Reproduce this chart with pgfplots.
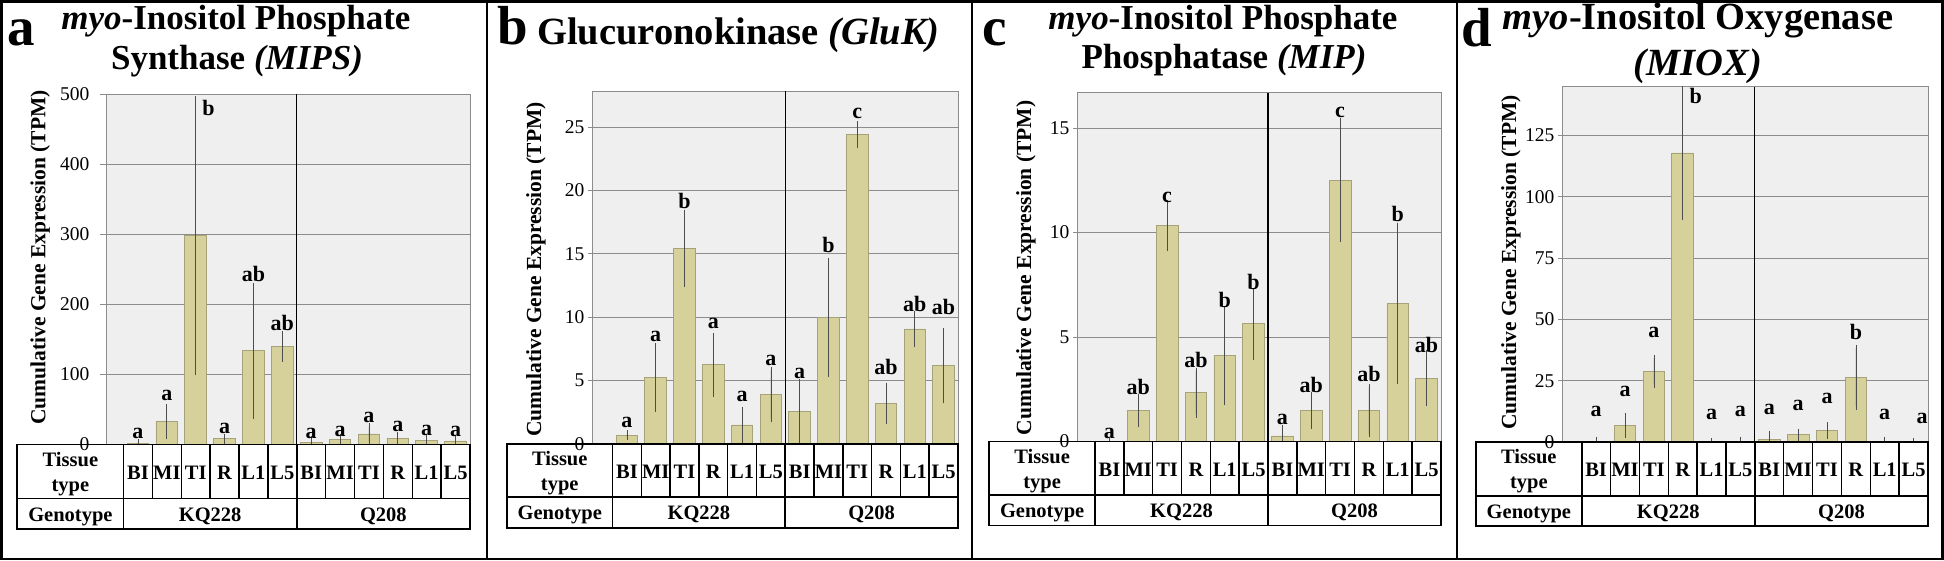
\documentclass[border=0pt]{standalone}
\usepackage{fontspec}
\setmainfont{Liberation Serif}
\usepackage{pgfplots}
\pgfplotsset{compat=1.18}
\usepackage{pgfplotstable}

\definecolor{barfill}{HTML}{D6D09B}
\definecolor{baredge}{HTML}{A6A27A}
\definecolor{bggray}{HTML}{EFEFEF}
\definecolor{gridgray}{HTML}{8C8C8C}
\definecolor{errcol}{HTML}{4D4D4D}

% ---------- data: x index, value, error ----------
\pgfplotstableread{
x y e
0 2 1
1 33 20
2 298 194
3 8 2
4 134 92
5 140 17
6 3 4
7 7 3.5
8 15 10.5
9 8.5 4.5
10 6 4.5
11 5 4
}\dataA
\pgfplotstableread{
x y t
0 8.7 a
1 62.8 a
2.44 469 b
3 16.3 a
4 232 ab
5 163 ab
6 8.7 a
7 11.7 a
8 31.6 a
9 17.9 a
10 12.8 a
11 11.7 a
}\labA

\pgfplotstableread{
x y e
0 0.7 0.1
1 5.25 2.43
2 15.41 2.75
3 6.24 2.25
4 1.5 1.15
5 3.9 1.9
6 2.55 2.33
7 9.97 4.4
8 24.38 0.8
9 3.19 1.37
10 9.07 1.15
11 6.16 2.68
}\dataB
\pgfplotstableread{
x y t
0 1.3 a
1 8.08 a
2 18.6 b
3 9.12 a
4 3.33 a
5 6.2 a
6 5.17 a
7 15.1 b
8 25.65 c
9 5.5 ab
10 10.48 ab
11 10.25 ab
}\labB

\pgfplotstableread{
x y e
0 0 0
1 1.49 0.63
2 10.33 1.04
3 2.34 1.03
4 4.12 2.21
5 5.63 1.54
6 0.27 0.36
7 1.49 0.72
8 12.5 2.79
9 1.49 1.12
10 6.62 3.69
11 3.03 1.17
}\dataC
\pgfplotstableread{
x y t
0 0.15 a
1 2.26 ab
2 11.44 c
3 3.54 ab
4 6.41 b
5 7.27 b
6 0.8 a
7 2.34 ab
8 15.51 c
9 2.86 ab
10 10.52 b
11 4.26 ab
}\labC

\pgfplotstableread{
x y e
0 0.3 0.3
1 6.7 3.65
2 28.9 5.25
3 117.9 25.9
4 0 0
5 0.3 0.2
6 1.0 1.9
7 2.9 1.1
8 4.7 1.85
9 26.4 11.9
10 0.4 0.3
11 0.15 0.1
}\dataD
\pgfplotstableread{
x y t
0 10.2 a
1 18.7 a
2 42.7 a
3.45 138 b
4 9.2 a
5 10.2 a
6 11.4 a
7 12.8 a
8 15.5 a
9 42 b
10 9.2 a
11.3 7.7 a
}\labD

\pgfplotsset{
  panel/.style={
    scale only axis, anchor=south west,
    xmax=11.5, ymin=0,
    xtick=\empty,
    axis background/.style={fill=bggray},
    axis line style={gridgray, line width=0.8pt},
    ymajorgrids, major grid style={gridgray, line width=0.8pt},
    ytick align=outside, ytick pos=left,
    major tick length=4pt,
    ytick style={gridgray, line width=0.8pt},
    yticklabel style={font=\fontsize{19.5}{20}\selectfont, inner sep=0pt, xshift=-3.5pt},
    /pgf/number format/assume math mode=true,
    extra x ticks={5.5}, extra x tick labels={},
    extra x tick style={grid=major, major grid style={black, line width=1.2pt}, major tick length=0pt},
    clip mode=individual,
  },
  bars/.style={ybar, bar width=0.75, fill=barfill, draw=baredge, line width=0.8pt,
    error bars/.cd, y dir=both, y explicit,
    error bar style={errcol, line width=0.7pt},
    error mark options={errcol, line width=0.7pt, mark size=3.5pt}},
  letters/.style={draw=none, mark=none, nodes near coords=\pgfplotspointmeta,
    point meta=explicit symbolic,
    every node near coord/.append style={anchor=base, inner sep=0pt,
      font=\fontsize{22}{22}\selectfont\bfseries, text=black}},
}

\newcommand{\tabfont}{\fontsize{20.5}{21}\selectfont\bfseries}
\newcommand{\ylabfont}{\fontsize{21.5}{22}\selectfont\bfseries}

% #1 TL, #2 T0, #3 w, #4 top, #5 mid, #6 bottom (y up), all in pt
\newcommand{\gentable}[6]{%
  \pgfmathsetmacro{\TR}{#2+12*#3}%
  \pgfmathsetmacro{\Cx}{(#1+#2)/2}%
  \pgfmathsetmacro{\Mx}{#2+6*#3}%
  \draw[line width=1.8pt] (#1pt,#4pt) rectangle (\TR pt,#6pt);
  \draw[line width=1.8pt] (#1pt,#5pt) -- (\TR pt,#5pt);
  \draw[line width=1.8pt] (#2pt,#4pt) -- (#2pt,#6pt);
  \draw[line width=1.8pt] (\Mx pt,#4pt) -- (\Mx pt,#6pt);
  \foreach \k in {1,2,3,4,5,7,8,9,10,11} {\draw[line width=1.5pt] ({(#2+\k*#3)*1pt},#4pt) -- ({(#2+\k*#3)*1pt},#5pt);}
  \foreach \lab [count=\i from 0] in {BI,MI,TI,R,L1,L5,BI,MI,TI,R,L1,L5}
    {\node[anchor=base, inner sep=0pt, font=\tabfont] at ({(#2+(\i+0.5)*#3)*1pt},{(#4-35)*1pt}) {\lab};}
  \node[anchor=base, inner sep=0pt, font=\tabfont] at (\Cx pt,{(#4-22)*1pt}) {Tissue};
  \node[anchor=base, inner sep=0pt, font=\tabfont] at (\Cx pt,{(#4-47)*1pt}) {type};
  \node[anchor=base, inner sep=0pt, font=\tabfont] at (\Cx pt,{(#5-23)*1pt}) {Genotype};
  \node[anchor=base, inner sep=0pt, font=\tabfont] at ({(#2+3*#3)*1pt},{(#5-23)*1pt}) {KQ228};
  \node[anchor=base, inner sep=0pt, font=\tabfont] at ({(#2+9*#3)*1pt},{(#5-23)*1pt}) {Q208};
}

\begin{document}
\begin{tikzpicture}
\useasboundingbox (0pt,0pt) rectangle (1944pt,561pt);

% ================= panel a =================
\begin{axis}[panel, at={(106pt,116.5pt)}, width=364pt, height=350.5pt,
  xmin=-1.1061, ymax=500, ytick={0,100,...,500},
  major tick length=6pt, yticklabel style={xshift=-7pt}]
\addplot[bars] table[x=x, y=y, y error=e] {\dataA};
\addplot[letters] table[x=x, y=y, meta=t] {\labA};
\end{axis}
\gentable{17.3}{123.5}{28.875}{116.5}{62.5}{32}
\node[rotate=90, anchor=base, inner sep=0pt, font=\ylabfont] at (45.5pt,303.5pt) {Cumulative Gene Expression (TPM)};
\node[anchor=base west, inner sep=0pt] at (7pt,515.3pt) {\fontsize{55}{55}\selectfont\bfseries a};
\node[anchor=base, inner sep=0pt] at (236pt,531pt) {\fontsize{35}{35}\selectfont\bfseries\textit{myo}-Inositol Phosphate};
\node[anchor=base, inner sep=0pt] at (237pt,491.5pt) {\fontsize{35}{35}\selectfont\bfseries Synthase \textit{(MIPS)}};

% ================= panel b =================
\begin{axis}[panel, at={(592pt,117pt)}, width=366pt, height=352.5pt,
  xmin=-1.2120, ymax=27.8, ytick={0,5,...,25}]
\addplot[bars] table[x=x, y=y, y error=e] {\dataB};
\addplot[letters] table[x=x, y=y, meta=t] {\labB};
\end{axis}
\gentable{507}{612.5}{28.7917}{117}{64}{33}
\node[rotate=90, anchor=base, inner sep=0pt, font=\ylabfont] at (541pt,291.5pt) {Cumulative Gene Expression (TPM)};
\node[anchor=base west, inner sep=0pt] at (497pt,516pt) {\fontsize{55}{55}\selectfont\bfseries b};
\node[anchor=base, inner sep=0pt] at (738.5pt,516pt) {\fontsize{38.5}{38.5}\selectfont\bfseries Glucuronokinase \textit{(GluK)}};

% ================= panel c =================
\begin{axis}[panel, at={(1077pt,119.4pt)}, width=364pt, height=348.7pt,
  xmin=-1.1243, ymax=16.68, ytick={0,5,10,15}]
\addplot[bars] table[x=x, y=y, y error=e] {\dataC};
\addplot[letters] table[x=x, y=y, meta=t] {\labC};
\end{axis}
\gentable{989.3}{1095}{28.8333}{119.4}{66}{35.4}
\node[rotate=90, anchor=base, inner sep=0pt, font=\ylabfont] at (1031pt,293pt) {Cumulative Gene Expression (TPM)};
\node[anchor=base west, inner sep=0pt] at (982pt,515pt) {\fontsize{55}{55}\selectfont\bfseries c};
\node[anchor=base, inner sep=0pt] at (1223pt,531.4pt) {\fontsize{35}{35}\selectfont\bfseries\textit{myo}-Inositol Phosphate};
\node[anchor=base, inner sep=0pt] at (1224pt,492pt) {\fontsize{35}{35}\selectfont\bfseries Phosphatase \textit{(MIP)}};

% ================= panel d =================
\begin{axis}[panel, at={(1562pt,119pt)}, width=366pt, height=355.2pt,
  xmin=-1.1826, ymax=144.9, ytick={0,25,...,125}]
\addplot[bars] table[x=x, y=y, y error=e] {\dataD};
\addplot[letters] table[x=x, y=y, meta=t] {\labD};
\end{axis}
\gentable{1476}{1581.7}{28.858}{119}{65}{35}
\node[rotate=90, anchor=base, inner sep=0pt, font=\ylabfont] at (1516pt,298.5pt) {Cumulative Gene Expression (TPM)};
\node[anchor=base west, inner sep=0pt] at (1461pt,514.3pt) {\fontsize{55}{55}\selectfont\bfseries d};
\node[anchor=base, inner sep=0pt] at (1698pt,531pt) {\fontsize{38.5}{38.5}\selectfont\bfseries\textit{myo}-Inositol Oxygenase};
\node[anchor=base, inner sep=0pt] at (1698pt,485pt) {\fontsize{38.5}{38.5}\selectfont\bfseries\textit{(MIOX)}};

% panel frames
\draw[line width=2.5pt] (1.5pt,2pt) rectangle (1942.5pt,559.5pt);
\foreach \xx in {487,972,1457} {\draw[line width=2.5pt] (\xx pt,2pt) -- (\xx pt,559.5pt);}
\end{tikzpicture}
\end{document}
